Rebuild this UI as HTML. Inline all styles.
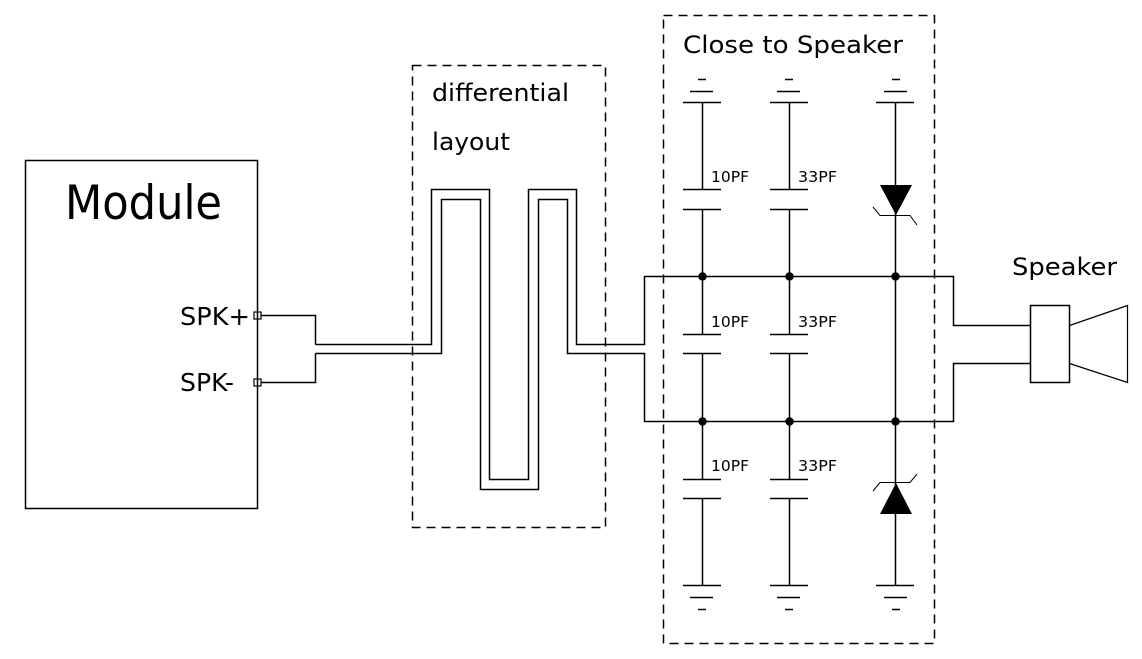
<!DOCTYPE html>
<html><head><meta charset="utf-8"><style>
html,body{margin:0;padding:0;background:#fff;}
svg{display:block;}
text{font-family:"DejaVu Sans","Liberation Sans",sans-serif;fill:#000;}
</style></head><body>
<svg width="1142" height="659" viewBox="0 0 1142 659" xmlns="http://www.w3.org/2000/svg">
<g fill="none" stroke="#000" stroke-width="1.5">
<rect x="25.5" y="160.5" width="232" height="348"/>
<rect x="254" y="312" width="7" height="7" stroke-width="1.2"/>
<rect x="254" y="379" width="7" height="7" stroke-width="1.2"/>
<rect x="412.5" y="65.5" width="193" height="462" stroke-dasharray="9,6"/>
<rect x="663.5" y="15.5" width="271" height="628" stroke-dasharray="9,6"/>
<polyline points="261,315.5 315.5,315.5 315.5,344.5"/>
<polyline points="261,382.5 315.5,382.5 315.5,353.5"/>
<polyline points="315.5,344.5 431.5,344.5 431.5,189.5 489.5,189.5 489.5,479.5 528.5,479.5 528.5,189.5 576.5,189.5 576.5,344.5 644.5,344.5 644.5,276.5 953.5,276.5 953.5,325.5 1031,325.5"/>
<polyline points="315.5,353.5 441.5,353.5 441.5,199.5 480.5,199.5 480.5,489.5 538.5,489.5 538.5,199.5 567.5,199.5 567.5,353.5 644.5,353.5 644.5,421.5 953.5,421.5 953.5,363.5 1031,363.5"/>
<rect x="1030.5" y="305.5" width="39" height="77"/>
<polyline points="1069.5,325.5 1127.5,305.5 1127.5,382.5 1069.5,363.5" stroke-width="1.2"/>
<g id="c">
<line x1="702.5" y1="102.5" x2="702.5" y2="189.5"/>
<line x1="702.5" y1="209.5" x2="702.5" y2="334.5"/>
<line x1="702.5" y1="353.5" x2="702.5" y2="479.5"/>
<line x1="702.5" y1="498.5" x2="702.5" y2="585.5"/>
<line x1="683" y1="189.5" x2="721" y2="189.5"/><line x1="683" y1="209.5" x2="721" y2="209.5"/>
<line x1="683" y1="334.5" x2="721" y2="334.5"/><line x1="683" y1="353.5" x2="721" y2="353.5"/>
<line x1="683" y1="479.5" x2="721" y2="479.5"/><line x1="683" y1="498.5" x2="721" y2="498.5"/>
<line x1="683" y1="102.5" x2="721" y2="102.5"/><line x1="690" y1="91.5" x2="713" y2="91.5"/><line x1="698" y1="79.5" x2="706" y2="79.5"/>
<line x1="683" y1="585.5" x2="721" y2="585.5"/><line x1="690" y1="597.5" x2="713" y2="597.5"/><line x1="698" y1="609.5" x2="706" y2="609.5"/>
</g>
<use href="#c" transform="translate(87,0)"/>
<line x1="895.5" y1="102.5" x2="895.5" y2="585.5"/>
<line x1="876" y1="102.5" x2="914" y2="102.5"/><line x1="884" y1="91.5" x2="907" y2="91.5"/><line x1="892" y1="79.5" x2="900" y2="79.5"/>
<line x1="876" y1="585.5" x2="914" y2="585.5"/><line x1="884" y1="597.5" x2="907" y2="597.5"/><line x1="892" y1="609.5" x2="900" y2="609.5"/>
<polyline points="873,207 880,215.5 910,215.5 917,225" stroke-width="1"/>
<polyline points="873,491 880,482.5 910,482.5 917,474" stroke-width="1"/>
</g>
<polygon points="880,185 912,185 896,215" fill="#000"/>
<polygon points="880,514 912,514 896,483" fill="#000"/>
<g fill="#000">
<circle cx="702.5" cy="276.5" r="4.2"/><circle cx="789.5" cy="276.5" r="4.2"/><circle cx="895.5" cy="276.5" r="4.2"/>
<circle cx="702.5" cy="421.5" r="4.2"/><circle cx="789.5" cy="421.5" r="4.2"/><circle cx="895.5" cy="421.5" r="4.2"/>
</g>
<text x="65" y="219" font-size="47" textLength="157" lengthAdjust="spacingAndGlyphs">Module</text>
<text x="180" y="325" font-size="25" textLength="70" lengthAdjust="spacingAndGlyphs">SPK+</text>
<text x="180" y="391" font-size="25" textLength="54" lengthAdjust="spacingAndGlyphs">SPK-</text>
<text x="432" y="101" font-size="24" textLength="137" lengthAdjust="spacingAndGlyphs">differential</text>
<text x="432" y="150" font-size="24" textLength="78" lengthAdjust="spacingAndGlyphs">layout</text>
<text x="683" y="53" font-size="24" textLength="220" lengthAdjust="spacingAndGlyphs">Close to Speaker</text>
<text x="1012" y="275" font-size="24" textLength="105" lengthAdjust="spacingAndGlyphs">Speaker</text>
<g font-size="15">
<text x="711" y="182" textLength="38" lengthAdjust="spacingAndGlyphs">10PF</text>
<text x="798" y="182" textLength="39" lengthAdjust="spacingAndGlyphs">33PF</text>
<text x="711" y="327" textLength="38" lengthAdjust="spacingAndGlyphs">10PF</text>
<text x="798" y="327" textLength="39" lengthAdjust="spacingAndGlyphs">33PF</text>
<text x="711" y="471" textLength="38" lengthAdjust="spacingAndGlyphs">10PF</text>
<text x="798" y="471" textLength="39" lengthAdjust="spacingAndGlyphs">33PF</text>
</g>
</svg>
</body></html>
